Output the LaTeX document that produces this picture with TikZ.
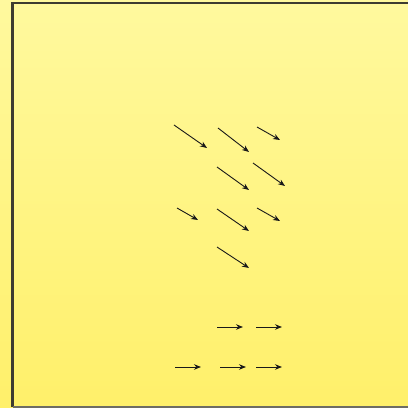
\documentclass[tikz,border=0pt]{standalone}
\usetikzlibrary{arrows.meta}
\definecolor{bgtop}{HTML}{FFF99E}
\definecolor{bgbot}{HTML}{FFF06A}
\definecolor{framec}{HTML}{3E3C30}
\tikzset{
  vec/.style={draw=black!90, line width=0.9pt, -{Stealth[length=7pt,width=5.5pt]}},
}
\begin{document}
\begin{tikzpicture}[x=1pt,y=1pt]
\useasboundingbox (0,0) rectangle (408,408);
\clip (0,0) rectangle (408,408);
\shade[top color=bgtop, bottom color=bgbot] (0,0) rectangle (408,408);
\draw[framec, line width=2.2pt] (12.5,1) -- (12.5,405.3) -- (412,405.3);
\draw[framec!75, line width=1.2pt] (12.5,1) -- (412,1);
% diagonal arrows
\coordinate (a1s) at (174,283); \coordinate (a1e) at (207,260);
\coordinate (a2s) at (218,280); \coordinate (a2e) at (249,256);
\coordinate (a3s) at (257,281); \coordinate (a3e) at (280,268);
\coordinate (a4s) at (217,241); \coordinate (a4e) at (249,218);
\coordinate (a5s) at (253,245); \coordinate (a5e) at (285,222);
\coordinate (a6s) at (177,200); \coordinate (a6e) at (198,188);
\coordinate (a7s) at (217,199); \coordinate (a7e) at (249,177);
\coordinate (a8s) at (257,200); \coordinate (a8e) at (280,187);
\coordinate (a9s) at (217,161); \coordinate (a9e) at (249,140);
\foreach \i in {1,...,9} \draw[vec] (a\i s) -- (a\i e);
% horizontal arrows
\coordinate (h1s) at (217,81); \coordinate (h1e) at (243,81);
\coordinate (h2s) at (256,81); \coordinate (h2e) at (282,81);
\coordinate (h3s) at (175,41); \coordinate (h3e) at (201,41);
\coordinate (h4s) at (220,41); \coordinate (h4e) at (246,41);
\coordinate (h5s) at (256,41); \coordinate (h5e) at (282,41);
\foreach \i in {1,...,5} \draw[vec] (h\i s) -- (h\i e);
\end{tikzpicture}
\end{document}
